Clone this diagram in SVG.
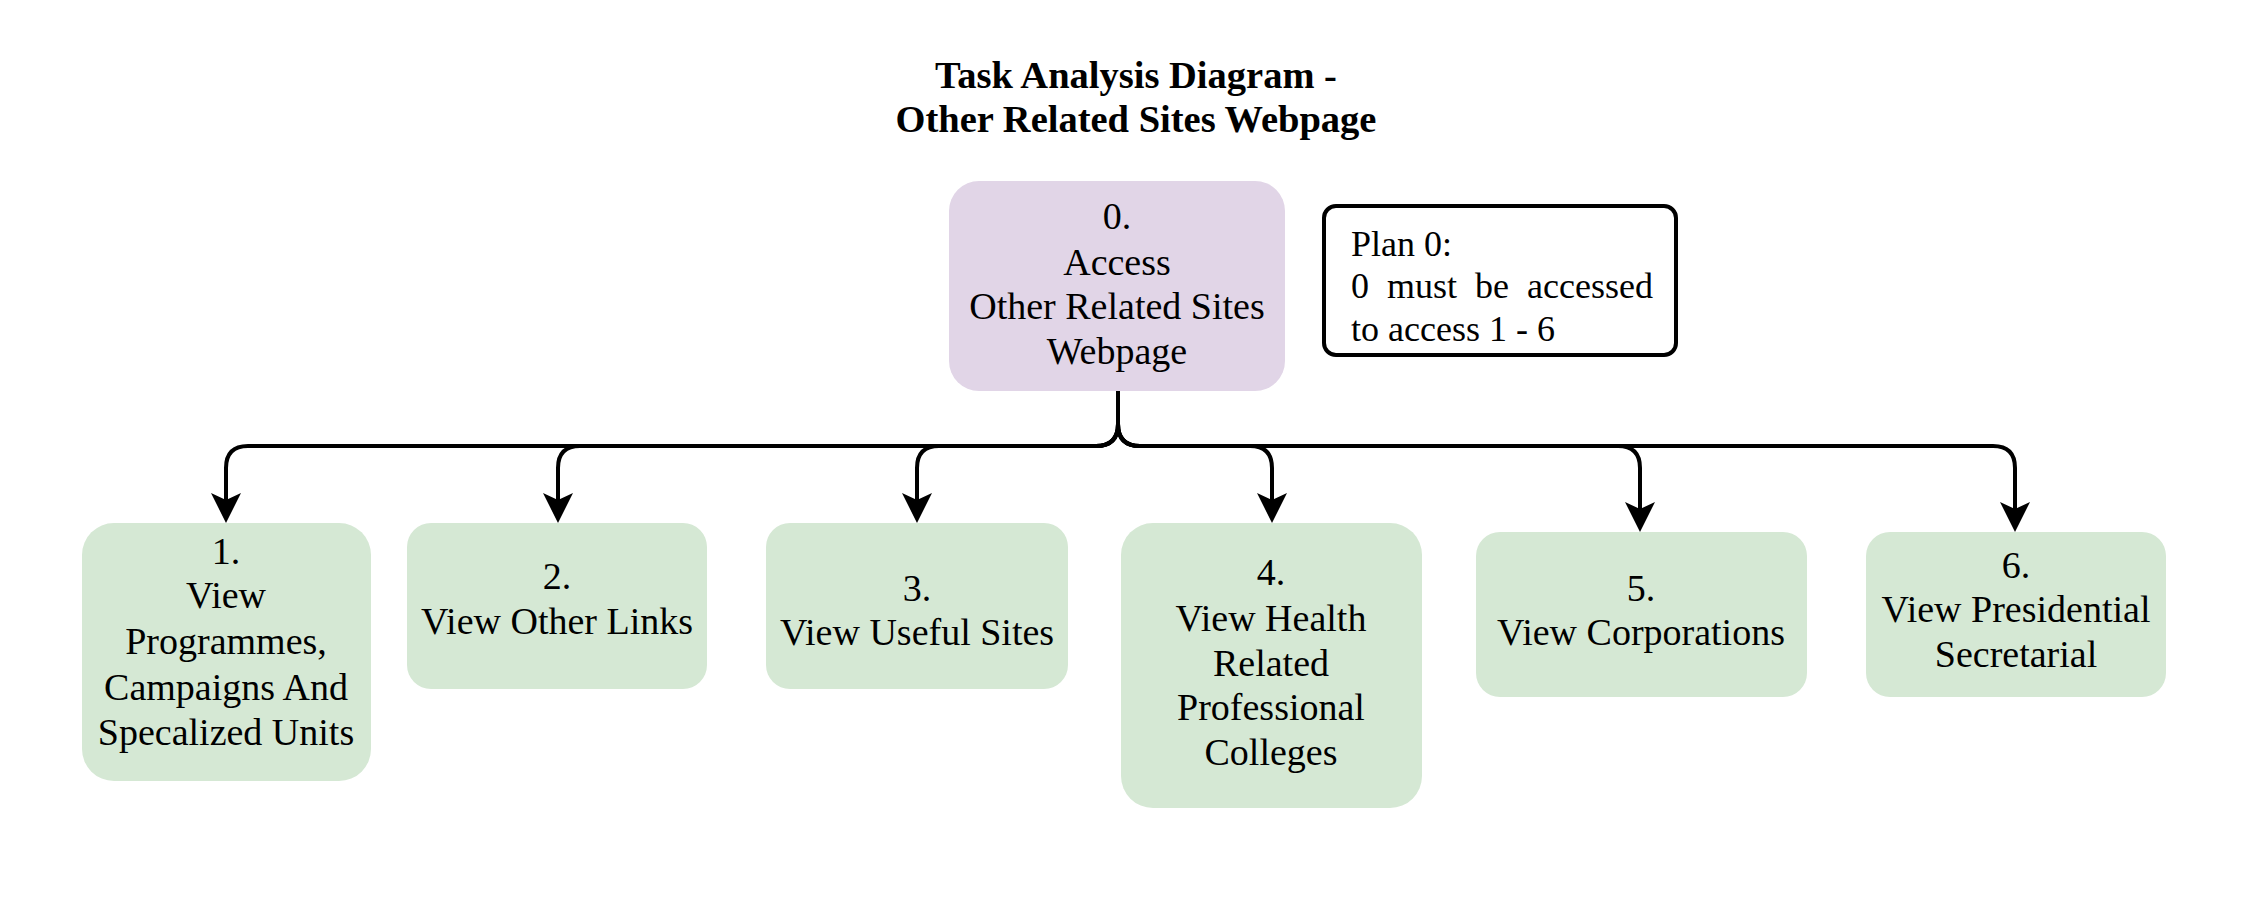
<svg xmlns="http://www.w3.org/2000/svg" width="2254" height="904" viewBox="0 0 2254 904">
<defs>
<style>
.title{font-family:"Liberation Serif","Times New Roman",serif;font-weight:bold;font-size:38.5px;fill:#000;text-anchor:middle}
.lbl{font-family:"Liberation Serif","Times New Roman",serif;font-size:38px;fill:#000;text-anchor:middle}
.plan{font-family:"Liberation Serif","Times New Roman",serif;font-size:36px;fill:#000}
.task0{fill:#e1d5e7}
.task{fill:#d5e8d4}
.edge{fill:none;stroke:#000;stroke-width:4;stroke-linejoin:round}
</style>
<marker id="arr" markerUnits="userSpaceOnUse" viewBox="0 0 30 30" markerWidth="30" markerHeight="30" refX="16" refY="15" orient="auto">
<path d="M0,0 L30,15 L0,30 L7,15 Z" fill="#000"/>
</marker>
</defs>
<rect width="2254" height="904" fill="#fff"/>
<g id="title">
<text class="title" x="1136" y="88">Task Analysis Diagram -</text>
<text class="title" x="1136" y="132">Other Related Sites Webpage</text>
</g>
<g id="connectors">
<path class="edge" marker-end="url(#arr)" d="M1118,391 V424 Q1118,446 1096,446 H248 Q226,446 226,468 V509"/>
<path class="edge" marker-end="url(#arr)" d="M1118,391 V424 Q1118,446 1096,446 H580 Q558,446 558,468 V509"/>
<path class="edge" marker-end="url(#arr)" d="M1118,391 V424 Q1118,446 1096,446 H939 Q917,446 917,468 V509"/>
<path class="edge" marker-end="url(#arr)" d="M1118,391 V424 Q1118,446 1140,446 H1250 Q1272,446 1272,468 V509"/>
<path class="edge" marker-end="url(#arr)" d="M1118,391 V424 Q1118,446 1140,446 H1618 Q1640,446 1640,468 V518"/>
<path class="edge" marker-end="url(#arr)" d="M1118,391 V424 Q1118,446 1140,446 H1993 Q2015,446 2015,468 V518"/>
</g>
<g id="node0">
<rect class="task0" x="949" y="181" width="336" height="210" rx="30"/>
<text class="lbl" x="1117" y="229">0.</text>
<text class="lbl" x="1117" y="275">Access</text>
<text class="lbl" x="1117" y="319">Other Related Sites</text>
<text class="lbl" x="1117" y="364">Webpage</text>
</g>
<g id="plan0">
<rect x="1324" y="206" width="352" height="149" rx="12" fill="#fff" stroke="#000" stroke-width="4"/>
<text class="plan" x="1351" y="256">Plan 0:</text>
<text class="plan" y="298"><tspan x="1351">0</tspan><tspan x="1387">must</tspan><tspan x="1475">be</tspan><tspan x="1653" text-anchor="end">accessed</tspan></text>
<text class="plan" x="1351" y="341">to access 1 - 6</text>
</g>
<g id="node1">
<rect class="task" x="82" y="523" width="289" height="258" rx="32"/>
<text class="lbl" x="226" y="564">1.</text>
<text class="lbl" x="226" y="608">View</text>
<text class="lbl" x="226" y="654">Programmes,</text>
<text class="lbl" x="226" y="700">Campaigns And</text>
<text class="lbl" x="226" y="745">Specalized Units</text>
</g>
<g id="node2">
<rect class="task" x="407" y="523" width="300" height="166" rx="24"/>
<text class="lbl" x="557" y="589">2.</text>
<text class="lbl" x="557" y="634">View Other Links</text>
</g>
<g id="node3">
<rect class="task" x="766" y="523" width="302" height="166" rx="24"/>
<text class="lbl" x="917" y="601">3.</text>
<text class="lbl" x="917" y="645">View Useful Sites</text>
</g>
<g id="node4">
<rect class="task" x="1121" y="523" width="301" height="285" rx="32"/>
<text class="lbl" x="1271" y="585">4.</text>
<text class="lbl" x="1271" y="631">View Health</text>
<text class="lbl" x="1271" y="676">Related</text>
<text class="lbl" x="1271" y="720">Professional</text>
<text class="lbl" x="1271" y="765">Colleges</text>
</g>
<g id="node5">
<rect class="task" x="1476" y="532" width="331" height="165" rx="24"/>
<text class="lbl" x="1641" y="601">5.</text>
<text class="lbl" x="1641" y="645">View Corporations</text>
</g>
<g id="node6">
<rect class="task" x="1866" y="532" width="300" height="165" rx="24"/>
<text class="lbl" x="2016" y="578">6.</text>
<text class="lbl" x="2016" y="622">View Presidential</text>
<text class="lbl" x="2016" y="667">Secretarial</text>
</g>
</svg>
